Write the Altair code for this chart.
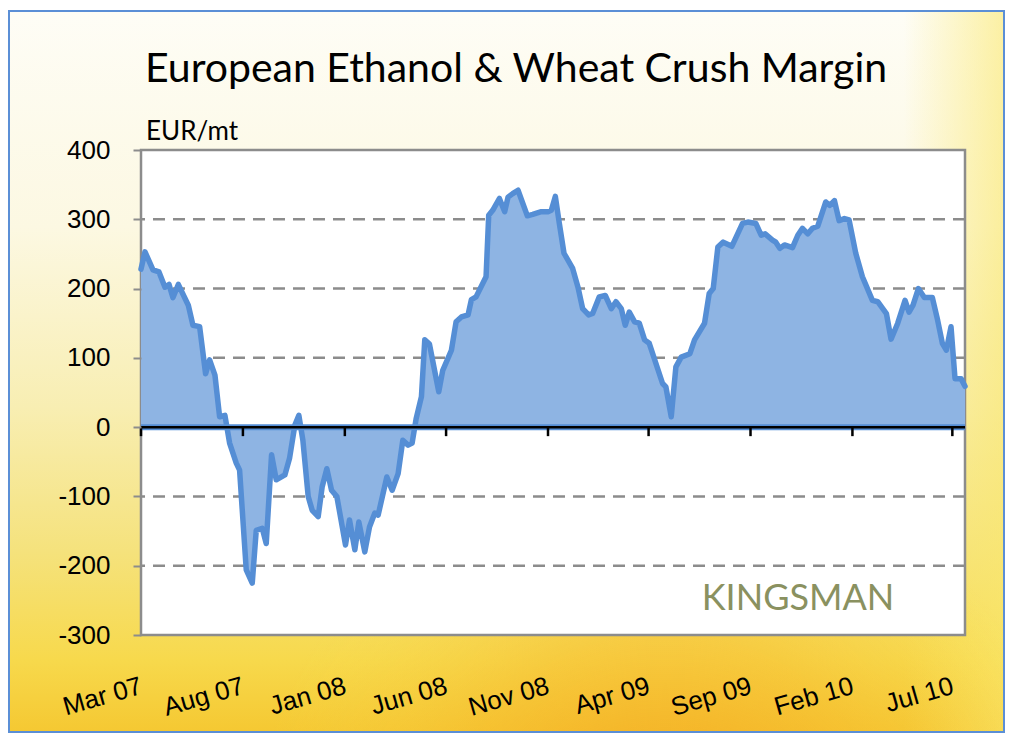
import altair as alt
import pandas as pd

# ---------------- data ----------------
DATES = [
    "2007-03-01", "2007-03-07", "2007-03-19", "2007-03-28", "2007-04-06", "2007-04-12",
    "2007-04-18", "2007-04-26", "2007-05-11", "2007-05-18", "2007-05-28", "2007-06-06",
    "2007-06-12", "2007-06-20", "2007-06-27", "2007-07-05", "2007-07-12", "2007-07-22",
    "2007-07-27", "2007-08-06", "2007-08-15", "2007-08-21", "2007-08-30", "2007-09-05",
    "2007-09-13", "2007-09-20", "2007-10-03", "2007-10-10", "2007-10-18", "2007-10-24",
    "2007-10-30", "2007-11-07", "2007-11-13", "2007-11-22", "2007-11-28", "2007-12-05",
    "2007-12-12", "2007-12-20", "2008-01-02", "2008-01-08", "2008-01-16", "2008-01-22",
    "2008-01-31", "2008-02-07", "2008-02-15", "2008-02-20", "2008-03-04", "2008-03-12",
    "2008-03-21", "2008-03-28", "2008-04-05", "2008-04-11", "2008-04-17", "2008-04-25",
    "2008-04-30", "2008-05-07", "2008-05-21", "2008-05-27", "2008-06-09", "2008-06-16",
    "2008-06-24", "2008-07-04", "2008-07-09", "2008-07-16", "2008-07-31", "2008-08-04",
    "2008-08-10", "2008-08-20", "2008-08-28", "2008-09-02", "2008-09-09", "2008-09-17",
    "2008-10-01", "2008-10-09", "2008-10-22", "2008-11-01", "2008-11-06", "2008-11-12",
    "2008-11-18", "2008-11-25", "2008-12-08", "2008-12-16", "2008-12-23", "2009-01-01",
    "2009-01-07", "2009-01-17", "2009-01-26", "2009-02-04", "2009-02-11", "2009-02-19",
    "2009-02-25", "2009-03-03", "2009-03-11", "2009-03-18", "2009-03-26", "2009-04-02",
    "2009-04-22", "2009-04-27", "2009-05-05", "2009-05-12", "2009-05-20", "2009-06-02",
    "2009-06-09", "2009-06-24", "2009-07-01", "2009-07-07", "2009-07-14", "2009-07-22",
    "2009-08-04", "2009-08-20", "2009-08-28", "2009-09-09", "2009-09-17", "2009-09-23",
    "2009-10-04", "2009-10-09", "2009-10-15", "2009-10-22", "2009-11-03", "2009-11-11",
    "2009-11-18", "2009-11-26", "2009-12-03", "2009-12-11", "2009-12-23", "2009-12-29",
    "2010-01-05", "2010-01-12", "2010-01-20", "2010-01-27", "2010-02-06", "2010-02-16",
    "2010-03-03", "2010-03-11", "2010-03-24", "2010-03-31", "2010-04-10", "2010-04-21",
    "2010-04-27", "2010-05-03", "2010-05-11", "2010-05-20", "2010-06-01", "2010-06-09",
    "2010-06-16", "2010-06-22", "2010-06-29", "2010-07-05", "2010-07-14", "2010-07-20",
]
MARGIN = [
    228, 253, 227, 224, 202, 206,
    187, 206, 176, 147, 145, 77,
    97, 75, 15, 17, -23, -52,
    -62, -206, -225, -149, -146, -168,
    -40, -76, -69, -45, 3, 17,
    -19, -100, -120, -129, -86, -60,
    -91, -100, -170, -134, -177, -137,
    -180, -144, -124, -127, -72, -91,
    -67, -19, -26, -23, 12, 44,
    126, 120, 51, 82, 111, 152,
    159, 162, 184, 188, 217, 306,
    313, 330, 311, 332, 337, 342,
    305, 307, 311, 311, 313, 333,
    294, 251, 229, 202, 171, 162,
    164, 188, 190, 171, 181, 171,
    147, 166, 152, 150, 126, 121,
    63, 58, 15, 87, 101, 106,
    126, 150, 193, 200, 260, 267,
    261, 294, 296, 294, 277, 279,
    270, 267, 258, 263, 259, 277,
    287, 279, 287, 290, 325, 320,
    327, 298, 301, 299, 251, 217,
    183, 181, 164, 127, 150, 183,
    166, 176, 200, 187, 187, 154,
    121, 111, 145, 70, 70, 59,
]
TICK_DATES = ["2007-03-01", "2007-08-01", "2008-01-01", "2008-06-01", "2008-11-01",
              "2009-04-01", "2009-09-01", "2010-02-01", "2010-07-01"]
X_DOMAIN = ["2007-03-01", "2010-07-20"]
Y_TICKS = [-300, -200, -100, 0, 100, 200, 300, 400]
GRID_VALUES = [-200, -100, 100, 200, 300]
TITLE = "European Ethanol & Wheat Crush Margin"
UNIT = "EUR/mt"
LOGO = "KINGSMAN"

# ---------------- layout / style ----------------
W, H = 824, 485
AREA_FILL = "#8EB4E3"
LINE_COLOR = "#558ED5"
GRID_COLOR = "#8c8c8c"

df = pd.DataFrame({"date": pd.to_datetime(DATES), "margin": MARGIN})
ticks_df = pd.DataFrame({"date": pd.to_datetime(TICK_DATES)})
grid_df = pd.DataFrame({"v": GRID_VALUES})
one = pd.DataFrame({"k": [0]})


def dt(s):
    y, m, d = map(int, s.split("-"))
    return alt.DateTime(year=y, month=m, date=d)


x_axis = alt.Axis(values=[dt(s) for s in TICK_DATES], format="%b %y", labelAngle=-16,
                  labelAlign="right", labelBaseline="middle", labelPadding=50,
                  ticks=False, tickSize=0, domain=False, grid=False,
                  labelFont="Liberation Sans", labelFontSize=26, labelColor="black",
                  labelOverlap=False, labelFlush=False, title=None, zindex=1)
y_axis = alt.Axis(values=Y_TICKS, grid=False, domain=False, ticks=True, tickSize=8,
                  tickWidth=2, tickColor=GRID_COLOR, labelFont="Liberation Sans",
                  labelFontSize=26, labelColor="black", labelPadding=23,
                  labelExpr="'' + datum.value", title=None, zindex=1)
x_scale = alt.Scale(domain=[dt(s) for s in X_DOMAIN])
y_scale = alt.Scale(domain=[-300, 400], nice=False, zero=False)

X = alt.X("date:T", scale=x_scale, axis=x_axis)

bg_gradient = alt.LinearGradient(
    gradient="linear", x1=0, y1=0, x2=0, y2=1,
    stops=[alt.GradientStop(color="#fefdf6", offset=0),
           alt.GradientStop(color="#fcf8e2", offset=0.3),
           alt.GradientStop(color="#f8eeb2", offset=0.55),
           alt.GradientStop(color="#f5e27c", offset=0.75),
           alt.GradientStop(color="#f7d94c", offset=0.9),
           alt.GradientStop(color="#f5c832", offset=1)])
side_gradient = alt.LinearGradient(
    gradient="linear", x1=0, y1=0, x2=1, y2=0,
    stops=[alt.GradientStop(color="rgba(250,232,110,0)", offset=0),
           alt.GradientStop(color="rgba(250,232,110,0)", offset=0.9),
           alt.GradientStop(color="rgba(250,232,110,0.6)", offset=1)])
glow_gradient = alt.RadialGradient(
    gradient="radial", x1=0.66, y1=1.0, r1=0, x2=0.66, y2=1.0, r2=0.42,
    stops=[alt.GradientStop(color="rgba(243,155,25,0.9)", offset=0),
           alt.GradientStop(color="rgba(246,185,45,0.45)", offset=0.55),
           alt.GradientStop(color="rgba(248,220,80,0)", offset=1)])

background = alt.Chart(one).mark_rect(fill=bg_gradient, stroke="#5b8fd6", strokeWidth=2).encode(
    x=alt.value(-132), x2=alt.value(863), y=alt.value(-139), y2=alt.value(582))
side = alt.Chart(one).mark_rect(fill=side_gradient).encode(
    x=alt.value(-131), x2=alt.value(862), y=alt.value(-138), y2=alt.value(581))
glow = alt.Chart(one).mark_rect(fill=glow_gradient).encode(
    x=alt.value(-131), x2=alt.value(862), y=alt.value(-138), y2=alt.value(581))
plot_bg = alt.Chart(one).mark_rect(fill="white", stroke=GRID_COLOR, strokeWidth=2.5).encode(
    x=alt.value(0), x2=alt.value(W), y=alt.value(0), y2=alt.value(H))

grid = alt.Chart(grid_df).mark_rule(color=GRID_COLOR, strokeWidth=2.5, strokeDash=[12, 8]).encode(
    y=alt.Y("v:Q", scale=y_scale, axis=y_axis))

area = alt.Chart(df).mark_area(color=AREA_FILL, opacity=1).encode(
    x=X, y=alt.Y("margin:Q", scale=y_scale, axis=y_axis))
line = alt.Chart(df).mark_line(color=LINE_COLOR, strokeWidth=5.5, strokeJoin="round",
                               strokeCap="round").encode(
    x=X, y=alt.Y("margin:Q", scale=y_scale, axis=y_axis))

zero_blue = alt.Chart(one).mark_rule(color=LINE_COLOR, strokeWidth=6).encode(y=alt.datum(0))
zero_black = alt.Chart(one).mark_rule(color="black", strokeWidth=2.5).encode(y=alt.datum(0))
zero_ticks = alt.Chart(ticks_df).mark_rule(color="black", strokeWidth=2.5).encode(
    x=X, y=alt.datum(0), y2=alt.datum(-13))

title = alt.Chart(one).mark_text(text=TITLE, font="Lato", fontSize=41, color="black",
                                 align="left", baseline="alphabetic").encode(
    x=alt.value(4), y=alt.value(-68))
unit = alt.Chart(one).mark_text(text=UNIT, font="Lato", fontSize=26, color="black",
                                align="left", baseline="alphabetic").encode(
    x=alt.value(5), y=alt.value(-10))
logo = alt.Chart(one).mark_text(text=LOGO, font="Lato", fontSize=36, color="#8A9160",
                                align="center", baseline="alphabetic").encode(
    x=alt.value(657), y=alt.value(460))

chart = alt.layer(
    background, side, glow, plot_bg, grid, area, line, zero_blue, zero_black, zero_ticks,
    title, unit, logo,
).properties(
    width=W, height=H,
    padding={"left": 133, "top": 142, "right": 44, "bottom": 98},
    autosize=alt.AutoSizeParams(type="none"),
    background="white",
).configure_view(stroke=None)

chart.save("out.html", embed_options={"renderer": "svg", "actions": False})
